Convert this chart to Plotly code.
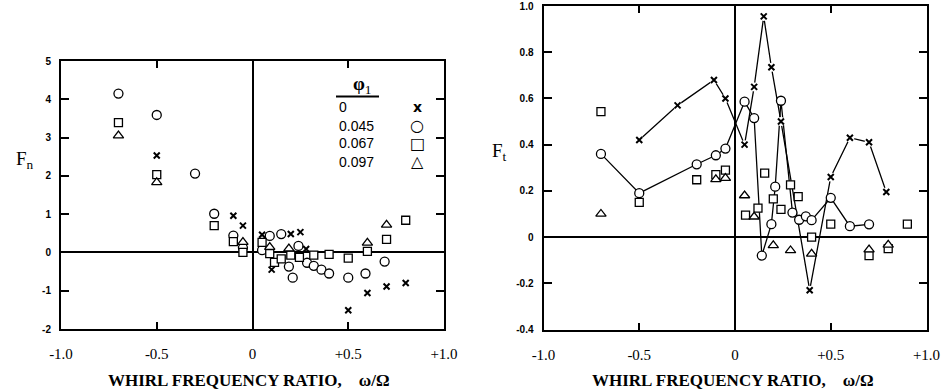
import plotly.graph_objects as go

# ---------------- data: left panel (F_n) ----------------
fn_phi0_x = [-0.5, -0.1, -0.05, 0.05, 0.1, 0.2, 0.25, 0.28, 0.5, 0.6, 0.7, 0.8]
fn_phi0_y = [2.53, 0.96, 0.70, 0.46, -0.45, 0.48, 0.53, 0.09, -1.51, -1.06, -0.89, -0.80]

fn_phi045_x = [-0.7, -0.5, -0.3, -0.2, -0.1, -0.05, 0.05, 0.09, 0.15, 0.19, 0.21, 0.24,
               0.285, 0.32, 0.36, 0.40, 0.5, 0.59, 0.69]
fn_phi045_y = [4.15, 3.59, 2.06, 1.01, 0.44, 0.12, 0.06, 0.43, 0.48, -0.37, -0.66, 0.17,
               -0.27, -0.35, -0.45, -0.55, -0.66, -0.55, -0.24]

fn_phi067_x = [-0.7, -0.5, -0.2, -0.1, -0.05, 0.05, 0.09, 0.115, 0.15, 0.2, 0.245, 0.32,
               0.4, 0.5, 0.6, 0.7, 0.8]
fn_phi067_y = [3.39, 2.03, 0.70, 0.28, 0.0, 0.26, -0.03, -0.26, -0.17, -0.07, -0.13, -0.07,
               -0.05, -0.15, 0.03, 0.34, 0.84]

fn_phi097_x = [-0.7, -0.5, -0.05, 0.09, 0.19, 0.6, 0.7]
fn_phi097_y = [3.05, 1.83, 0.27, 0.14, 0.10, 0.25, 0.72]

# ---------------- data: right panel (F_t) ----------------
ft_phi0_x = [-0.5, -0.3, -0.11, -0.05, 0.05, 0.1, 0.15, 0.19, 0.24, 0.39, 0.5, 0.6, 0.7, 0.79]
ft_phi0_y = [0.42, 0.57, 0.68, 0.60, 0.40, 0.65, 0.955, 0.735, 0.50, -0.23, 0.26, 0.43, 0.41, 0.195]

ft_phi045_x = [-0.7, -0.5, -0.2, -0.1, -0.05, 0.05, 0.1, 0.14, 0.19, 0.21, 0.24, 0.3,
               0.335, 0.37, 0.4, 0.5, 0.6, 0.7]
ft_phi045_y = [0.36, 0.19, 0.315, 0.354, 0.383, 0.586, 0.515, -0.08, 0.056, 0.218, 0.59, 0.106,
               0.075, 0.09, 0.073, 0.17, 0.047, 0.055]

ft_phi067_x = [-0.7, -0.5, -0.2, -0.1, -0.05, 0.055, 0.12, 0.155, 0.2, 0.24, 0.29, 0.33,
               0.4, 0.5, 0.7, 0.8, 0.9]
ft_phi067_y = [0.543, 0.15, 0.248, 0.27, 0.29, 0.095, 0.125, 0.277, 0.165, 0.12, 0.226, 0.175,
               0.0, 0.056, -0.08, -0.05, 0.056]

ft_phi097_x = [-0.7, -0.1, -0.05, 0.05, 0.1, 0.2, 0.29, 0.4, 0.7, 0.8]
ft_phi097_y = [0.10, 0.25, 0.255, 0.18, 0.088, -0.036, -0.058, -0.073, -0.054, -0.034]

x_tickvals = [-1.0, -0.5, 0.0, 0.5, 1.0]
x_ticktext = ["-1.0", "-0.5", "0", "+0.5", "+1.0"]
fn_tickvals = [-2, -1, 0, 1, 2, 3, 4, 5]
fn_ticktext = ["-2", "-1", "0", "1", "2", "3", "4", "5"]
ft_tickvals = [-0.4, -0.2, 0.0, 0.2, 0.4, 0.6, 0.8, 1.0]
ft_ticktext = ["-0.4", "-0.2", "0", "0.2", "0.4", "0.6", "0.8", "1.0"]
legend_labels = ["0", "0.045", "0.067", "0.097"]
legend_glyphs = ["x", "○", "□", "△"]

W, H = 950, 391
BLACK = "black"

def px(x):
    return x / W

def py(y):
    return 1 - y / H

fig = go.Figure()

def mk(symbol, size, width=1.3):
    return dict(symbol=symbol, size=size, color="white", line=dict(color=BLACK, width=width))

xmark = dict(symbol="x-thin", size=6, color=BLACK, line=dict(color=BLACK, width=2))

# ---- left panel markers ----
fig.add_trace(go.Scatter(x=fn_phi045_x, y=fn_phi045_y, mode="markers", marker=mk("circle", 9),
                         xaxis="x", yaxis="y", showlegend=False))
fig.add_trace(go.Scatter(x=fn_phi067_x, y=fn_phi067_y, mode="markers", marker=mk("square", 8),
                         xaxis="x", yaxis="y", showlegend=False))
fig.add_trace(go.Scatter(x=fn_phi097_x, y=fn_phi097_y, mode="markers", marker=mk("triangle-up", 9),
                         xaxis="x", yaxis="y", showlegend=False))
fig.add_trace(go.Scatter(x=fn_phi0_x, y=fn_phi0_y, mode="markers", marker=xmark,
                         xaxis="x", yaxis="y", showlegend=False))

# ---- right panel ----
fig.add_trace(go.Scatter(x=ft_phi0_x, y=ft_phi0_y, mode="lines", line=dict(color=BLACK, width=1.3),
                         xaxis="x2", yaxis="y2", showlegend=False))
fig.add_trace(go.Scatter(x=ft_phi045_x, y=ft_phi045_y, mode="lines", line=dict(color=BLACK, width=1.3),
                         xaxis="x2", yaxis="y2", showlegend=False))
# white halos around x markers (gap in line near marker)
fig.add_trace(go.Scatter(x=ft_phi0_x, y=ft_phi0_y, mode="markers",
                         marker=dict(symbol="circle", size=9, color="white", line=dict(width=0)),
                         xaxis="x2", yaxis="y2", showlegend=False, hoverinfo="skip"))
fig.add_trace(go.Scatter(x=ft_phi067_x, y=ft_phi067_y, mode="markers", marker=mk("square", 8),
                         xaxis="x2", yaxis="y2", showlegend=False))
fig.add_trace(go.Scatter(x=ft_phi097_x, y=ft_phi097_y, mode="markers", marker=mk("triangle-up", 9),
                         xaxis="x2", yaxis="y2", showlegend=False))
fig.add_trace(go.Scatter(x=ft_phi045_x, y=ft_phi045_y, mode="markers", marker=mk("circle", 9),
                         xaxis="x2", yaxis="y2", showlegend=False))
fig.add_trace(go.Scatter(x=ft_phi0_x, y=ft_phi0_y, mode="markers", marker=xmark,
                         xaxis="x2", yaxis="y2", showlegend=False))

serif = "Liberation Serif"
sans = "Liberation Sans"

def xaxis_cfg(domain):
    return dict(domain=domain, range=[-1, 1], tickvals=x_tickvals, ticktext=x_ticktext,
                ticks="inside", ticklen=7, tickwidth=2, tickcolor=BLACK,
                showline=True, linewidth=2, linecolor=BLACK, mirror="ticks",
                showgrid=False, zeroline=True, zerolinecolor=BLACK, zerolinewidth=1.6,
                tickfont=dict(family=serif, size=15, color=BLACK),
                ticklabelstandoff=10, automargin=False, fixedrange=True)

def yaxis_cfg(domain, rng, tv, tt, anchor):
    return dict(domain=domain, range=rng, tickvals=tv, ticktext=tt, anchor=anchor,
                ticks="inside", ticklen=8, tickwidth=2, tickcolor=BLACK,
                showline=True, linewidth=2, linecolor=BLACK, mirror="ticks",
                showgrid=False, zeroline=True, zerolinecolor=BLACK, zerolinewidth=1.6,
                tickfont=dict(family=sans, size=10, color=BLACK, weight="bold"),
                ticklabelstandoff=6, automargin=False, fixedrange=True)

fig.update_layout(
    width=W, height=H,
    margin=dict(l=0, r=0, t=0, b=0),
    paper_bgcolor="white", plot_bgcolor="white",
    xaxis=xaxis_cfg([px(61), px(444)]) | dict(anchor="y"),
    yaxis=yaxis_cfg([py(329), py(61)], [-2, 5], fn_tickvals, fn_ticktext, "x"),
    xaxis2=xaxis_cfg([px(543.5), px(926.5)]) | dict(anchor="y2"),
    yaxis2=yaxis_cfg([py(329.5), py(6)], [-0.4, 1.0], ft_tickvals, ft_ticktext, "x2"),
)

ann = []
title_txt = "WHIRL FREQUENCY RATIO,\u00a0\u00a0\u00a0 ω/Ω"
for cx in (249, 733):
    ann.append(dict(text=title_txt, x=px(cx), y=py(380), xref="paper", yref="paper",
                    xanchor="center", yanchor="middle", showarrow=False,
                    font=dict(family=serif, size=17, color=BLACK, weight="bold")))
ann.append(dict(text="F<sub>n</sub>", x=px(25), y=py(160), xref="paper", yref="paper",
                xanchor="center", yanchor="middle", showarrow=False,
                font=dict(family=serif, size=19, color=BLACK)))
ann.append(dict(text="F<sub>t</sub>", x=px(499), y=py(152), xref="paper", yref="paper",
                xanchor="center", yanchor="middle", showarrow=False,
                font=dict(family=serif, size=19, color=BLACK)))
# legend (left panel)
ann.append(dict(text="<b>φ</b><sub>1</sub>", x=px(362), y=py(85), xref="paper", yref="paper",
                xanchor="center", yanchor="middle", showarrow=False,
                font=dict(family=serif, size=19, color=BLACK)))
row_y = [107, 125.5, 143.5, 161.5]
for lab, glyph, yy in zip(legend_labels, legend_glyphs, row_y):
    ann.append(dict(text=lab, x=px(337), y=py(yy), xref="paper", yref="paper",
                    xanchor="left", yanchor="middle", showarrow=False,
                    font=dict(family=sans, size=14, color=BLACK)))
    ann.append(dict(text=glyph, x=px(417), y=py(yy), xref="paper", yref="paper",
                    xanchor="center", yanchor="middle", showarrow=False,
                    font=dict(family="DejaVu Sans", size=16 if glyph != "x" else 14, color=BLACK,
                              weight="bold")))
fig.update_layout(annotations=ann)
fig.add_shape(type="line", xref="paper", yref="paper", x0=px(336), x1=px(379),
              y0=py(96.5), y1=py(96.5), line=dict(color=BLACK, width=2))

fig.write_html("out.html")
